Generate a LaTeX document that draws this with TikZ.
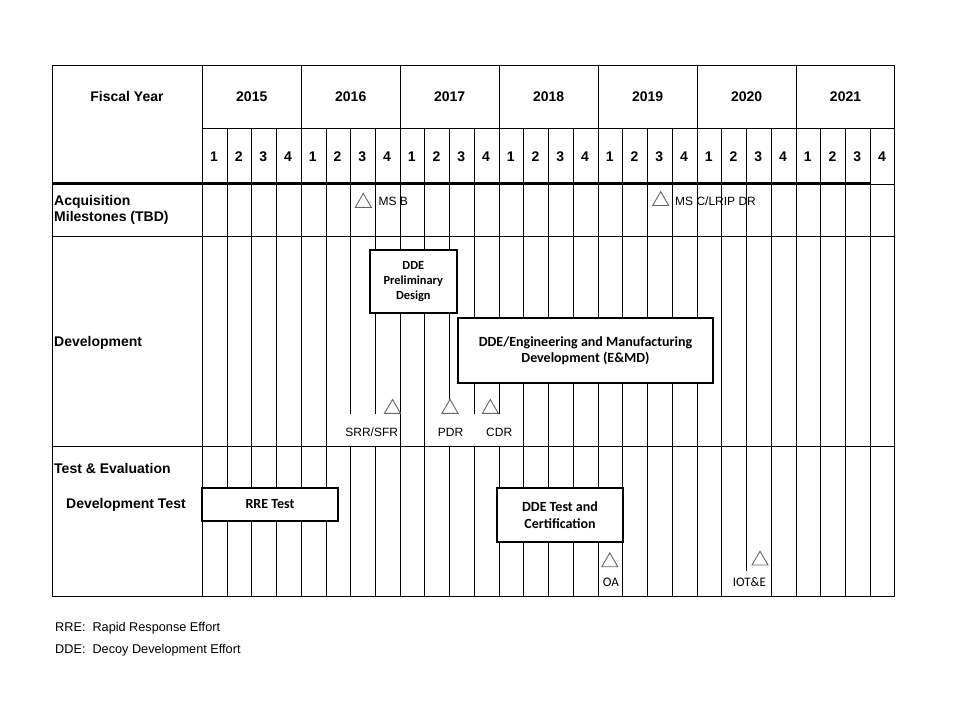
\documentclass[tikz,border=0pt]{standalone}
\usepackage{fontspec}
\setmainfont{Liberation Sans}
\newfontfamily\calibfont{Carlito}
\usetikzlibrary{shapes.geometric}
\begin{document}
\begin{tikzpicture}[x=1pt,y=-1pt,
  grid/.style={line width=1pt, black},
  box/.style={draw, line width=2pt, fill=white, inner sep=0pt, align=center},
  tri/.style={draw=black!60, fill=white, regular polygon, regular polygon sides=3,
              minimum size=18.5pt, inner sep=0pt, line width=0.9pt},
  hdr/.style={font=\bfseries\fontsize{14}{16}\selectfont, inner sep=0pt},
  lbl/.style={font=\fontsize{12}{14}\selectfont, inner sep=0pt},
  clbl/.style={font=\calibfont\fontsize{13}{15}\selectfont, inner sep=0pt},
]
\useasboundingbox (0,0) rectangle (960,720);

% vertical grid lines
\draw[grid] (202.3,65.7) -- (202.3,596);
\foreach \k in {1,...,27}{
  \pgfmathsetmacro{\qx}{202.3+24.74*\k}
  \pgfmathtruncatemacro{\m}{mod(\k,4)}
  \ifnum\m=0
    \draw[grid] (\qx,65.7) -- (\qx,596);
  \else
    \draw[grid] (\qx,128.3) -- (\qx,596);
  \fi
}
% gaps under milestone labels
\fill[white] (345,414.3) rectangle (381,446);
\fill[white] (440,414.3) rectangle (505,446);
\fill[white] (740,571) rectangle (753,596);

% horizontal lines and border
\draw[grid] (52,65.7) rectangle (894,596);
\draw[grid] (202.3,128.3) -- (894,128.3);
\draw[line width=2.2pt] (52,183.5) -- (870.3,183.5);
\draw[grid] (870.3,184) -- (894,184);
\draw[grid] (52,236) -- (894,236);
\draw[grid] (52,446.7) -- (894,446.7);

% header texts
\node[hdr] (fy) at (127,96.7) {Fiscal Year};
\foreach \yr [count=\i from 0] in {2015,2016,2017,2018,2019,2020,2021}{
  \node[hdr] (y\yr) at ({202.3+98.96*\i+49.48},96.7) {\yr};
}
\foreach \k in {0,...,27}{
  \pgfmathtruncatemacro{\qn}{mod(\k,4)+1}
  \node[hdr] (q\k) at ({202.3+24.74*\k+11.6},156.7) {\qn};
}

% row labels
\node[hdr, anchor=base west] (acqa) at (54,205) {Acquisition};
\node[hdr, anchor=base west] (acqb) at (54,221.7) {Milestones (TBD)};
\node[hdr, anchor=base west] (dev) at (54,346) {Development};
\node[hdr, anchor=base west] (te) at (54,473.3) {Test \& Evaluation};
\node[hdr, anchor=base west] (dt) at (66,508.3) {Development Test};

% acquisition milestones
\node[tri] (msb) at (363.3,202.7) {};
\node[lbl, anchor=base west] (msbl) at (378.3,205.7) {MS B};
\node[tri] (msc) at (660.7,200.9) {};
\node[lbl, anchor=base west] (mscl) at (675,205.7) {MS C/LRIP DR};

% development boxes
\node[box, minimum width=86.7pt, minimum height=62.7pt,
      font=\calibfont\bfseries\fontsize{12.4}{14.8}\selectfont] (prelim) at (413.3,281.3)
      {DDE\\Preliminary\\Design};
\node[box, minimum width=255.6pt, minimum height=64.4pt,
      font=\calibfont\bfseries\fontsize{14}{15.8}\selectfont] (emd) at (585.5,350.5)
      {DDE/Engineering and Manufacturing\\Development (E\&MD)};

% development milestones
\node[tri] (srr) at (392.5,408.7) {};
\node[tri] (pdr) at (450,408.7) {};
\node[tri] (cdr) at (490.3,408.7) {};
\node[lbl, anchor=base] (srrl) at (371.7,436) {SRR/SFR};
\node[lbl, anchor=base] (pdrl) at (450.5,436) {PDR};
\node[lbl, anchor=base] (cdrl) at (499.2,436) {CDR};

% test boxes
\node[box, minimum width=135.4pt, minimum height=33pt,
      font=\calibfont\bfseries\fontsize{14}{15}\selectfont] (rre) at (270,504.2) {RRE Test};
\node[box, minimum width=125.4pt, minimum height=54pt,
      font=\calibfont\bfseries\fontsize{14}{16.7}\selectfont] (ddet) at (560,515.3)
      {DDE Test and\\Certification};

% test milestones
\node[tri] (oa) at (609.8,562.1) {};
\node[tri] (iot) at (760,560.4) {};
\node[clbl, anchor=base] (oal) at (610.8,586.7) {OA};
\node[clbl, anchor=base] (iotl) at (749.3,586.7) {IOT\&E};

% footnotes
\node[lbl, font=\fontsize{12.7}{14}\selectfont, anchor=base west] (fn1) at (55,631.7)
      {RRE:\hspace{7pt}Rapid Response Effort};
\node[lbl, font=\fontsize{12.7}{14}\selectfont, anchor=base west] (fn2) at (55,653.3)
      {DDE:\hspace{7pt}Decoy Development Effort};
\end{tikzpicture}
\end{document}
